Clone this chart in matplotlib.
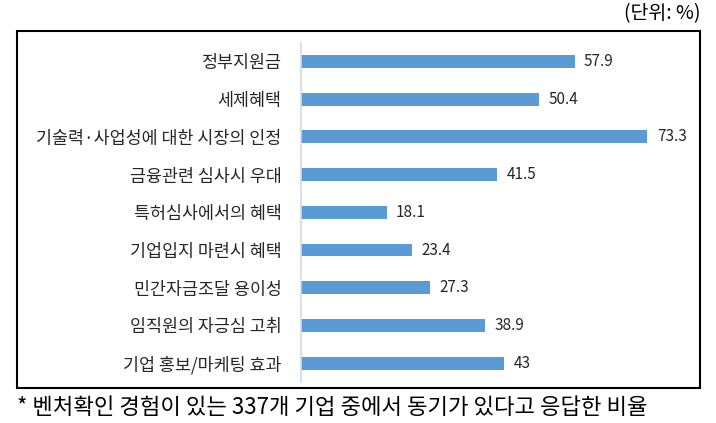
import matplotlib.pyplot as plt
from matplotlib.patches import Rectangle

plt.rcParams['font.family'] = ['Noto Sans CJK KR', 'DejaVu Sans']

# 항목 / 값
labels = ['정부지원금', '세제혜택', '기술력·사업성에 대한 시장의 인정', '금융관련 심사시 우대',
          '특허심사에서의 혜택', '기업입지 마련시 혜택', '민간자금조달 용이성',
          '임직원의 자긍심 고취', '기업 홍보/마케팅 효과']
values = [57.9, 50.4, 73.3, 41.5, 18.1, 23.4, 27.3, 38.9, 43]
value_text = ['57.9', '50.4', '73.3', '41.5', '18.1', '23.4', '27.3', '38.9', '43']

fig = plt.figure(figsize=(7.16, 4.23), dpi=100)
ax = fig.add_axes([0.4204, 0.0969, 0.5279, 0.8024])

pos = list(range(len(labels)))
ax.barh(pos, values, height=0.34, color='#5B9BD5')
for p, v, t in zip(pos, values, value_text):
    ax.text(v + 2.0, p, t, va='center', ha='left', fontsize=11, color='#262626')

ax.set_xlim(0, 80)
ax.set_ylim(len(labels) - 0.5, -0.5)
ax.set_yticks(pos)
ax.set_yticklabels(labels, fontsize=12.5, color='#262626')
ax.tick_params(axis='y', length=0, pad=14)
ax.set_xticks([])
for s in ['top', 'right', 'bottom']:
    ax.spines[s].set_visible(False)
ax.spines['left'].set_color('#D9D9D9')
ax.spines['left'].set_linewidth(1.2)

# 바깥 테두리
fig.patches.append(Rectangle((0.0237, 0.0827), 0.954, 0.844, transform=fig.transFigure,
                             fill=False, edgecolor='black', linewidth=1.5))

fig.text(0.978, 0.967, '(단위: %)', ha='right', va='center', fontsize=14)
fig.text(0.024, 0.036, '* 벤처확인 경험이 있는 337개 기업 중에서 동기가 있다고 응답한 비율',
         ha='left', va='center', fontsize=16)

fig.savefig('out.png', dpi=100)
